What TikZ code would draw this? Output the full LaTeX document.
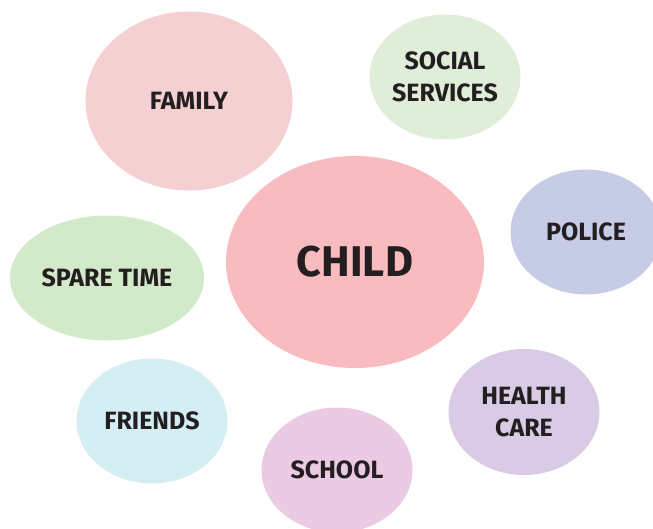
\documentclass[tikz,border=0pt]{standalone}
\usepackage{fontspec}
\setmainfont{Fira Sans}
\usetikzlibrary{shapes.geometric}
\definecolor{txtdark}{HTML}{231F20}
\definecolor{cfamily}{HTML}{F5D0D2}
\definecolor{csocial}{HTML}{DFEDD9}
\definecolor{cchild}{HTML}{F8BCC0}
\definecolor{cpolice}{HTML}{C6CCE5}
\definecolor{cspare}{HTML}{D3EACA}
\definecolor{cfriends}{HTML}{D4EEF3}
\definecolor{cschool}{HTML}{EBCBE3}
\definecolor{chealth}{HTML}{D9CBE5}
\begin{document}
\begin{tikzpicture}[x=1pt,y=-1pt, text=txtdark,
		font=\bfseries\fontsize{25}{31.5}\selectfont,
		bubble/.style={ellipse, inner sep=0pt, align=center}]
	\useasboundingbox (0,0) rectangle (653,528);
	\foreach \name/\cx/\cy/\rx/\ry/\col/\txt in {
		family/189/101/103.5/89.5/cfamily/{FAMILY},
		social/445/77/75.5/62.5/csocial/{SOCIAL\\SERVICES},
		police/586/232/75.5/62.5/cpolice/{POLICE},
		spare/107/278/97/62.5/cspare/{SPARE TIME},
		friends/152/421/75.5/62.5/cfriends/{FRIENDS},
		school/337/470/75.5/62.5/cschool/{SCHOOL},
		health/524/412/75.5/63/chealth/{HEALTH\\CARE}}{
		\node[bubble, fill=\col, minimum width=2*\rx, minimum height=2*\ry] (\name) at (\cx,\cy) {\txt};
	}
	\node[bubble, fill=cchild, minimum width=258, minimum height=212,
		font=\bfseries\fontsize{43}{45}\selectfont] (child) at (355,262) {CHILD};
\end{tikzpicture}
\end{document}
